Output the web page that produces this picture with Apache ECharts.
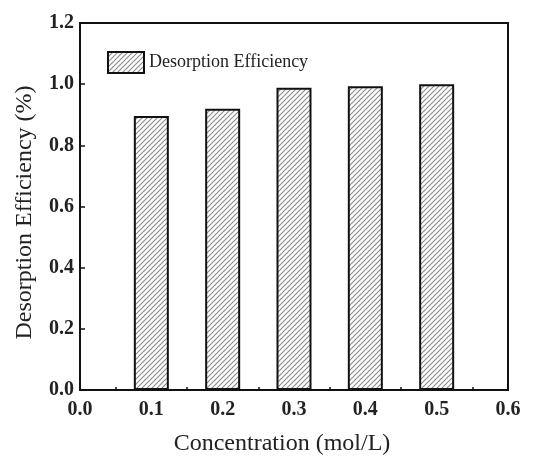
<!DOCTYPE html>
<html><head><meta charset="utf-8">
<script src="https://cdn.jsdelivr.net/npm/echarts@6/dist/echarts.min.js"></script>
<style>html,body{margin:0;padding:0;background:#fff}#c{width:536px;height:457px}</style>
</head><body><div id="c"></div>
<script>
const concentrations = [0.1, 0.2, 0.3, 0.4, 0.5];
const efficiency = [0.896, 0.920, 0.988, 0.993, 1.0];
const seriesName = 'Desorption Efficiency';
const xTitle = 'Concentration (mol/L)';
const yTitle = 'Desorption Efficiency (%)';

function hatch() {
  const s = 5;
  const c = document.createElement('canvas');
  c.width = s; c.height = s;
  const g = c.getContext('2d');
  g.fillStyle = '#fff'; g.fillRect(0, 0, s, s);
  g.strokeStyle = '#8a8a8a'; g.lineWidth = 1.1;
  g.beginPath();
  g.moveTo(-1, s + 1); g.lineTo(s + 1, -1);
  g.moveTo(-1, 1); g.lineTo(1, -1);
  g.moveTo(s - 1, s + 1); g.lineTo(s + 1, s - 1);
  g.stroke();
  return c;
}
const pat = { image: hatch(), repeat: 'repeat' };
const serif = '"Liberation Serif", "Times New Roman", serif';

const chart = echarts.init(document.getElementById('c'), null, { renderer: 'canvas' });
chart.setOption({
  animation: false,
  backgroundColor: '#fff',
  grid: { left: 80, right: 28, top: 23, bottom: 67, show: true, borderColor: '#111', borderWidth: 2,
    containLabel: false, outerBoundsMode: 'none' },
  legend: {
    left: 102, top: 46, itemWidth: 36, itemHeight: 21, itemGap: 8,
    data: [{ name: seriesName, icon: 'rect' }],
    textStyle: { fontFamily: serif, fontSize: 18, color: '#222' }
  },
  xAxis: {
    type: 'value', min: 0, max: 0.6, interval: 0.1,
    name: xTitle, nameLocation: 'middle', nameGap: 42,
    nameTextStyle: { fontFamily: serif, fontSize: 24, color: '#222', padding: [0, 24, 0, 0] },
    axisLine: { show: true, lineStyle: { color: '#111', width: 2 } },
    axisTick: { show: true, inside: true, length: 5, lineStyle: { color: '#111', width: 1.5 } },
    minorTick: { show: true, splitNumber: 2, length: 3, lineStyle: { color: '#111', width: 1.5 } },
    splitLine: { show: false },
    axisLabel: { fontFamily: serif, fontSize: 20, fontWeight: 'bold', color: '#222', margin: 10,
      formatter: v => v.toFixed(1) }
  },
  yAxis: {
    type: 'value', min: 0, max: 1.2, interval: 0.2,
    name: yTitle, nameLocation: 'middle', nameGap: 43, nameRotate: 90,
    nameTextStyle: { fontFamily: serif, fontSize: 24, color: '#222', padding: [0, 12, 0, 0] },
    axisLine: { show: true, lineStyle: { color: '#111', width: 2 } },
    axisTick: { show: true, inside: true, length: 5, lineStyle: { color: '#111', width: 1.5 } },
    splitLine: { show: false },
    axisLabel: { fontFamily: serif, fontSize: 20, fontWeight: 'bold', color: '#222', margin: 6,
      formatter: v => v.toFixed(1) }
  },
  series: [{
    name: seriesName, type: 'bar', barWidth: 35,
    data: concentrations.map((x, i) => [x, efficiency[i]]),
    itemStyle: { color: pat, borderColor: '#111', borderWidth: 2 }
  }]
});
</script></body></html>
